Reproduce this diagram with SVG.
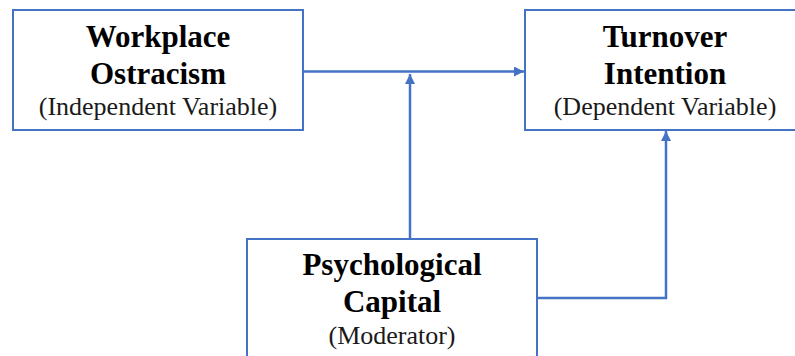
<svg xmlns="http://www.w3.org/2000/svg" width="795" height="356" viewBox="0 0 795 356">
<style>
.box{fill:#fff;stroke:#4472C4;stroke-width:2}
.t{font-family:"Liberation Serif","Times New Roman",serif;font-weight:bold;font-size:31px;text-anchor:middle;fill:#000}
.s{font-family:"Liberation Serif","Times New Roman",serif;font-size:26px;text-anchor:middle;fill:#1a1a1a}
.c{fill:none;stroke:#4472C4;stroke-width:2.5}
</style>
<defs>
<marker id="a" viewBox="0 0 10 10" refX="10" refY="5" markerWidth="4" markerHeight="4" orient="auto" markerUnits="strokeWidth">
<path d="M0,0L10,5L0,10z" fill="#4472C4"/>
</marker>
</defs>
<rect width="795" height="356" fill="#fff"/>
<g id="n1">
<rect class="box" x="13" y="10" width="290" height="120"/>
<text class="t" x="158" y="47">Workplace</text>
<text class="t" x="158" y="84">Ostracism</text>
<text class="s" x="158" y="115">(Independent Variable)</text>
</g>
<g id="n2">
<rect class="box" x="525" y="10" width="285" height="120"/>
<text class="t" x="665" y="47">Turnover</text>
<text class="t" x="665" y="84">Intention</text>
<text class="s" x="665" y="115">(Dependent Variable)</text>
</g>
<g id="n3">
<rect class="box" x="247" y="239" width="290" height="130"/>
<text class="t" x="392" y="275">Psychological</text>
<text class="t" x="392" y="312">Capital</text>
<text class="s" x="392" y="344">(Moderator)</text>
</g>
<g id="connectors">
<path class="c" d="M303,71.5H524" marker-end="url(#a)"/>
<path class="c" d="M410,238V74" marker-end="url(#a)"/>
<path class="c" d="M537,298H666V131" marker-end="url(#a)"/>
</g>
</svg>
